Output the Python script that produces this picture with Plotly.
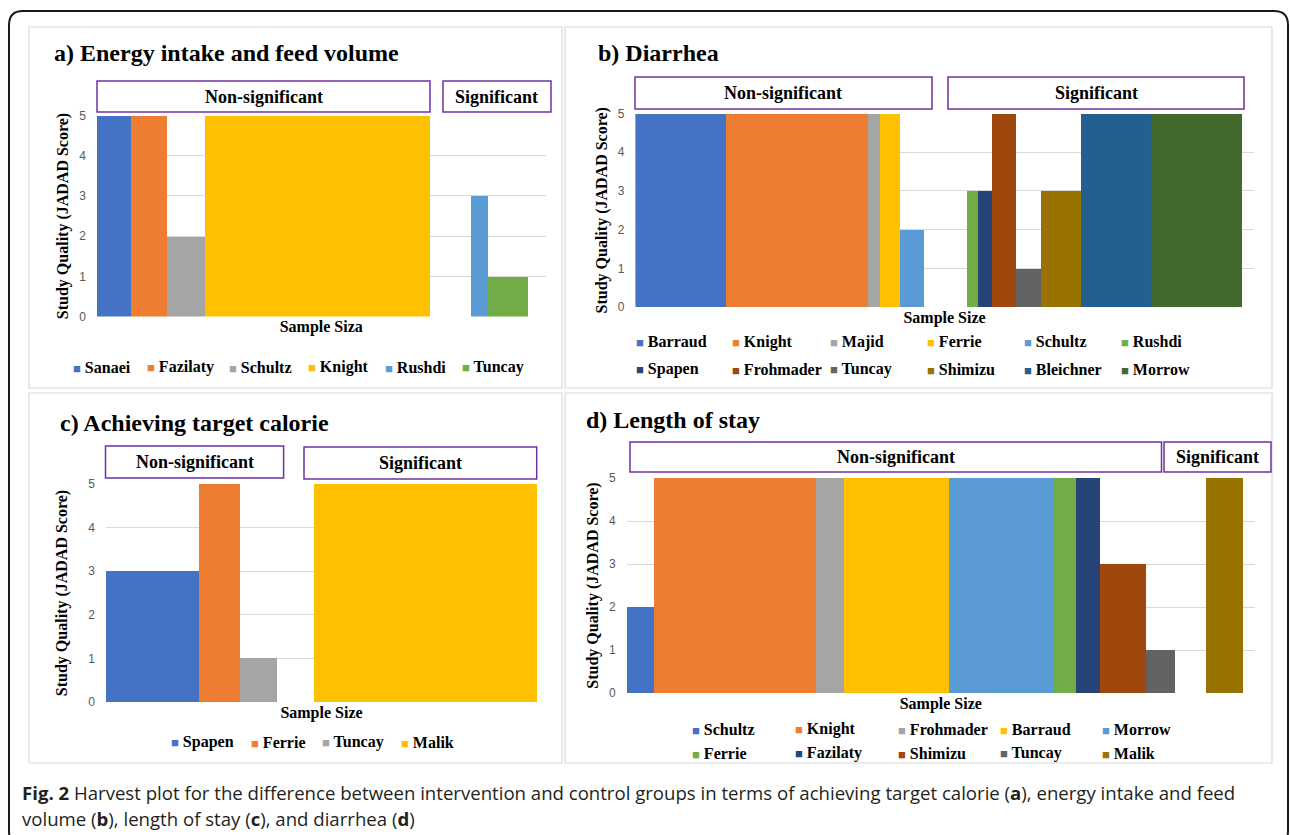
import plotly.graph_objects as go

# ---------------- data ----------------
PALETTE = ["#4472C4", "#ED7D31", "#A5A5A5", "#FFC000", "#5B9BD5", "#70AD47",
           "#264478", "#9E480E", "#636363", "#997300", "#255E91", "#43682B"]

# a) Energy intake and feed volume  (score = JADAD, size = relative sample size / bar width)
A_NONSIG_STUDIES = ["Sanaei", "Fazilaty", "Schultz", "Knight"]
A_NONSIG_SCORES = [5, 5, 2, 5]
A_NONSIG_SIZES = [34.3, 35.2, 38.2, 225.5]
A_SIG_STUDIES = ["Rushdi", "Tuncay"]
A_SIG_SCORES = [3, 1]
A_SIG_SIZES = [17.1, 40.0]

# b) Diarrhea
B_NONSIG_STUDIES = ["Barraud", "Knight", "Majid", "Ferrie", "Schultz"]
B_NONSIG_SCORES = [5, 5, 5, 5, 2]
B_NONSIG_SIZES = [91.3, 141.5, 12.1, 19.6, 24.1]
B_SIG_STUDIES = ["Rushdi", "Spapen", "Frohmader", "Tuncay", "Shimizu", "Bleichner", "Morrow"]
B_SIG_SCORES = [3, 3, 5, 1, 3, 5, 5]
B_SIG_SIZES = [10.7, 13.5, 24.7, 25.1, 39.6, 69.8, 90.8]

# c) Achieving target calorie
C_NONSIG_STUDIES = ["Spapen", "Ferrie", "Tuncay"]
C_NONSIG_SCORES = [3, 5, 1]
C_NONSIG_SIZES = [93.0, 41.0, 37.0]
C_SIG_STUDIES = ["Malik"]
C_SIG_SCORES = [5]
C_SIG_SIZES = [223.0]

# d) Length of stay
D_NONSIG_STUDIES = ["Schultz", "Knight", "Frohmader", "Barraud", "Morrow", "Ferrie",
                    "Fazilaty", "Shimizu", "Tuncay"]
D_NONSIG_SCORES = [2, 5, 5, 5, 5, 5, 5, 3, 1]
D_NONSIG_SIZES = [27.4, 161.6, 28.4, 104.7, 104.8, 21.9, 24.6, 45.7, 28.8]
D_SIG_STUDIES = ["Malik"]
D_SIG_SCORES = [5]
D_SIG_SIZES = [37.3]

Y_TICKS = [0, 1, 2, 3, 4, 5]

# ---------------- layout constants (pixels in a 1290x835 page) ----------------
W, H = 1290, 835
SERIF = "Liberation Serif"


def px(x):
    return x / W


def py(y):
    return 1 - y / H


PANELS = [
    dict(key="a", title="a) Energy intake and feed volume", title_xy=(52, 53),
         xtitle="Sample Siza", ystandoff=6,
         data=(A_NONSIG_STUDIES, A_NONSIG_SCORES, A_NONSIG_SIZES,
               A_SIG_STUDIES, A_SIG_SCORES, A_SIG_SIZES),
         gap=40.7, pad=17.5, xdom=(97, 545.5), ydom=(115.5, 316.5),
         boxes=[(97, 430, 81, 112, "Non-significant"), (443, 551, 81, 112, "Significant")],
         frame=(29, 562, 27, 388),
         legend_rows=[(367, [71.6, 145.5, 228, 307, 383.6, 460.7])]),
    dict(key="b", title="b) Diarrhea", title_xy=(596, 53), xtitle="Sample Size",
         ystandoff=6,
         data=(B_NONSIG_STUDIES, B_NONSIG_SCORES, B_NONSIG_SIZES,
               B_SIG_STUDIES, B_SIG_SCORES, B_SIG_SIZES),
         gap=43.8, pad=11.7, xdom=(635.4, 1253.7), ydom=(113.5, 307),
         boxes=[(635, 932, 77, 109, "Non-significant"), (948, 1244, 77, 109, "Significant")],
         frame=(565, 1272, 27, 388),
         legend_rows=[(342, [634.5, 731, 828.6, 926, 1023, 1120]),
                      (369, [634.5, 731, 828.6, 926, 1023, 1120])]),
    dict(key="c", title="c) Achieving target calorie", title_xy=(58, 423),
         xtitle="Sample Size", ystandoff=16,
         data=(C_NONSIG_STUDIES, C_NONSIG_SCORES, C_NONSIG_SIZES,
               C_SIG_STUDIES, C_SIG_SCORES, C_SIG_SIZES),
         gap=37.0, pad=0.0, xdom=(106, 537), ydom=(484, 702),
         boxes=[(105.5, 283.6, 446, 478, "Non-significant"), (304, 536.7, 447, 479, "Significant")],
         frame=(29, 562, 393, 763),
         legend_rows=[(742, [170, 249.5, 320.7, 400])]),
    dict(key="d", title="d) Length of stay", title_xy=(584, 420), xtitle="Sample Size",
         ystandoff=6,
         data=(D_NONSIG_STUDIES, D_NONSIG_SCORES, D_NONSIG_SIZES,
               D_SIG_STUDIES, D_SIG_SCORES, D_SIG_SIZES),
         gap=31.2, pad=12.0, xdom=(626.6, 1255), ydom=(478, 693),
         boxes=[(630, 1161.5, 442, 472, "Non-significant"), (1164, 1271, 442, 472, "Significant")],
         frame=(565, 1272, 393, 763),
         legend_rows=[(729, [691, 794, 896.6, 998.5, 1101]),
                      (753, [691, 794, 896.6, 998.5, 1101])]),
]

fig = go.Figure()
shapes = []
annotations = []

# outer rounded border
L, T, R, B, r = 9, 11, 1288, 845, 14
path = (f"M {px(L)} {py(T + r)} Q {px(L)} {py(T)} {px(L + r)} {py(T)} "
        f"L {px(R - r)} {py(T)} Q {px(R)} {py(T)} {px(R)} {py(T + r)} "
        f"L {px(R)} {py(B - r)} Q {px(R)} {py(B)} {px(R - r)} {py(B)} "
        f"L {px(L + r)} {py(B)} Q {px(L)} {py(B)} {px(L)} {py(B - r)} Z")
shapes.append(dict(type="path", path=path, xref="paper", yref="paper",
                   line=dict(color="#1a1a1a", width=2), layer="below"))

for i, p in enumerate(PANELS):
    ax = "" if i == 0 else str(i + 1)
    ns_names, ns_scores, ns_sizes, s_names, s_scores, s_sizes = p["data"]
    names = ns_names + s_names
    scores = ns_scores + s_scores
    sizes = ns_sizes + s_sizes
    # left edges: contiguous bars, with a gap between the two groups
    lefts = []
    pos = 0.0
    for j, w in enumerate(sizes):
        if j == len(ns_names):
            pos += p["gap"]
        lefts.append(pos)
        pos += w
    xmax = pos + p["pad"]

    for j, (nm, sc, w, x0) in enumerate(zip(names, scores, sizes, lefts)):
        fig.add_trace(go.Bar(
            x=[x0 + w / 2], y=[sc], width=[w], name=nm,
            marker=dict(color=PALETTE[j], line=dict(width=0)),
            showlegend=False, xaxis="x" + ax, yaxis="y" + ax,
            hovertemplate=f"{nm}<br>JADAD score: %{{y}}<extra></extra>"))

    fig.update_layout(**{
        "xaxis" + ax: dict(domain=[px(p["xdom"][0]), px(p["xdom"][1])],
                           range=[0, xmax], anchor="y" + ax, automargin=False,
                           showticklabels=False, showgrid=False, zeroline=False,
                           showline=False, ticks="", fixedrange=True,
                           title=dict(text=p["xtitle"], standoff=4,
                                      font=dict(family=SERIF, size=16, color="#000",
                                                weight="bold"))),
        "yaxis" + ax: dict(domain=[py(p["ydom"][1]), py(p["ydom"][0])],
                           range=[0, 5], anchor="x" + ax, automargin=False,
                           tickvals=Y_TICKS, showgrid=True, gridcolor="#D9D9D9",
                           gridwidth=1, zeroline=False, showline=False, ticks="",
                           ticklabelstandoff=10, fixedrange=True,
                           tickfont=dict(family="Liberation Sans", size=12, color="#595959"),
                           title=dict(text="Study Quality (JADAD Score)",
                                      standoff=p["ystandoff"],
                                      font=dict(family=SERIF, size=16, color="#000",
                                                weight="bold"))),
    })

    # panel frame
    fx0, fx1, fy0, fy1 = p["frame"]
    shapes.append(dict(type="rect", xref="paper", yref="paper",
                       x0=px(fx0), x1=px(fx1), y0=py(fy1), y1=py(fy0),
                       line=dict(color="#D9D9D9", width=1.2), layer="below"))
    # title
    annotations.append(dict(text=p["title"], xref="paper", yref="paper",
                            x=px(p["title_xy"][0]), y=py(p["title_xy"][1]),
                            xanchor="left", yanchor="middle", showarrow=False,
                            font=dict(family=SERIF, size=24, color="#000", weight="bold")))
    # significance boxes
    for bx0, bx1, by0, by1, label in p["boxes"]:
        shapes.append(dict(type="rect", xref="paper", yref="paper",
                           x0=px(bx0), x1=px(bx1), y0=py(by1), y1=py(by0),
                           line=dict(color="#7030A0", width=1.5), fillcolor="white"))
        annotations.append(dict(text=label, xref="paper", yref="paper",
                                x=px((bx0 + bx1) / 2), y=py((by0 + by1) / 2),
                                xanchor="center", yanchor="middle", showarrow=False,
                                font=dict(family=SERIF, size=18, color="#000",
                                          weight="bold")))
    # legend (swatch + name, following the study order)
    k = 0
    for ly, xs in p["legend_rows"]:
        for lx in xs:
            if k >= len(names):
                break
            annotations.append(dict(
                text=f'<span style="color:{PALETTE[k]};font-size:13px">■</span> {names[k]}',
                xref="paper", yref="paper", x=px(lx - 1), y=py(ly),
                xanchor="left", yanchor="middle", showarrow=False,
                font=dict(family=SERIF, size=16, color="#000", weight="bold")))
            k += 1

# caption
CAPTION_1 = ("<b>Fig. 2</b> Harvest plot for the difference between intervention and control "
             "groups in terms of achieving target calorie (<b>a</b>), energy intake and feed")
CAPTION_2 = "volume (<b>b</b>), length of stay (<b>c</b>), and diarrhea (<b>d</b>)"
for txt, cy in [(CAPTION_1, 792), (CAPTION_2, 818)]:
    annotations.append(dict(text=txt, xref="paper", yref="paper", x=px(20), y=py(cy),
                            xanchor="left", yanchor="middle", showarrow=False,
                            font=dict(family="Open Sans", size=18.6, color="#231F20")))

fig.update_layout(width=W, height=H,
                  margin=dict(l=0, r=0, t=0, b=0, pad=0, autoexpand=False),
                  paper_bgcolor="white", plot_bgcolor="white",
                  bargap=0, barmode="overlay", showlegend=False,
                  shapes=shapes, annotations=annotations)

fig.write_html("out.html", config={"displayModeBar": False},
               post_script="document.body.style.margin='0';document.body.style.overflow='hidden';")
